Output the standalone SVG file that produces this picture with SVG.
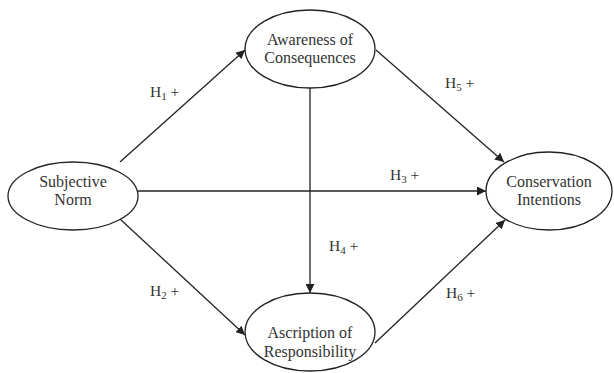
<svg xmlns="http://www.w3.org/2000/svg" width="614" height="373" viewBox="0 0 614 373">
<style>
.node ellipse{fill:#fff;stroke:#222;stroke-width:1.3}
text{font-family:"Liberation Serif","Times New Roman",Times,"DejaVu Serif",serif}
.node text{font-size:16px;fill:#333;text-anchor:middle}
.edges line{stroke:#222;stroke-width:1.3}
.lbl{font-size:15.5px;fill:#333}
.sub{font-size:11px}
</style>
<defs>
<marker id="arr" viewBox="0 0 10 10" refX="10" refY="5" markerWidth="9" markerHeight="9" markerUnits="userSpaceOnUse" orient="auto">
<path d="M0,0 L10,5 L0,10 z" fill="#222"/>
</marker>
</defs>
<rect width="614" height="373" fill="#fff"/>
<g class="edges">
<line x1="120" y1="162" x2="245" y2="50" marker-end="url(#arr)"/>
<line x1="120" y1="219" x2="245" y2="335" marker-end="url(#arr)"/>
<line x1="138" y1="191" x2="486" y2="191" marker-end="url(#arr)"/>
<line x1="310" y1="88" x2="310" y2="293" marker-end="url(#arr)"/>
<line x1="376" y1="50" x2="504" y2="162" marker-end="url(#arr)"/>
<line x1="375" y1="343" x2="505" y2="220" marker-end="url(#arr)"/>
</g>
<g id="labels">
<text class="lbl" x="150" y="97">H<tspan class="sub" dy="3">1</tspan><tspan dy="-3"> +</tspan></text>
<text class="lbl" x="150" y="296">H<tspan class="sub" dy="3">2</tspan><tspan dy="-3"> +</tspan></text>
<text class="lbl" x="390" y="180">H<tspan class="sub" dy="3">3</tspan><tspan dy="-3"> +</tspan></text>
<text class="lbl" x="329" y="251">H<tspan class="sub" dy="3">4</tspan><tspan dy="-3"> +</tspan></text>
<text class="lbl" x="445" y="88">H<tspan class="sub" dy="3">5</tspan><tspan dy="-3"> +</tspan></text>
<text class="lbl" x="446" y="298">H<tspan class="sub" dy="3">6</tspan><tspan dy="-3"> +</tspan></text>
</g>
<g id="subjective-norm" class="node">
<ellipse cx="73" cy="196" rx="65" ry="34"/>
<text x="73" y="187">Subjective</text>
<text x="73" y="205">Norm</text>
</g>
<g id="awareness" class="node">
<ellipse cx="310" cy="49" rx="65" ry="39"/>
<text x="310" y="45">Awareness of</text>
<text x="310" y="63">Consequences</text>
</g>
<g id="ascription" class="node">
<ellipse cx="310" cy="332" rx="65" ry="39"/>
<text x="310" y="338">Ascription of</text>
<text x="310" y="357">Responsibility</text>
</g>
<g id="conservation" class="node">
<ellipse cx="549" cy="191" rx="63" ry="39"/>
<text x="549" y="187">Conservation</text>
<text x="549" y="205">Intentions</text>
</g>
</svg>
